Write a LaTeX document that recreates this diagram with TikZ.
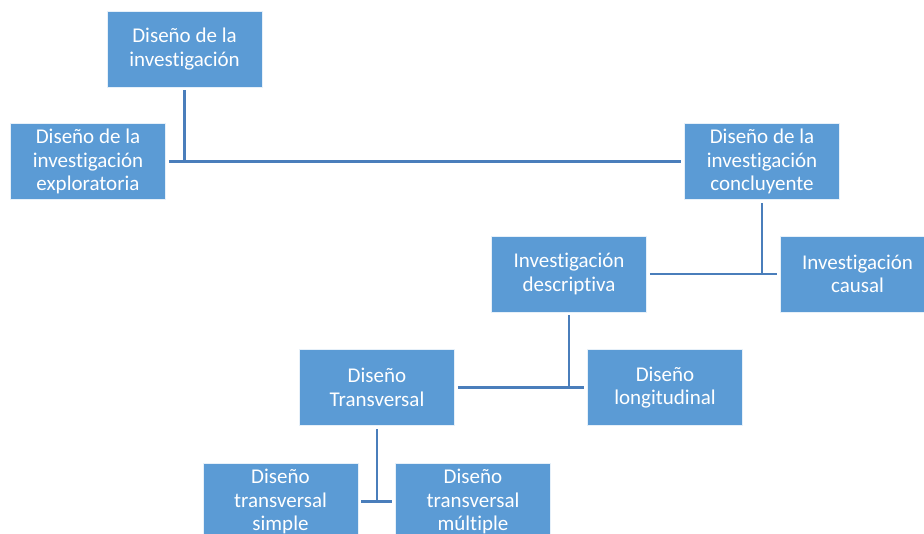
\documentclass[tikz,border=0pt]{standalone}
\usepackage{fontspec}
\setmainfont{Carlito}[Ligatures=NoCommon]
\definecolor{boxblue}{HTML}{5B9BD5}
\definecolor{linkblue}{HTML}{4A7EBB}
\begin{document}
\begin{tikzpicture}[x=1pt,y=-1pt,
  box/.style={rectangle, fill=boxblue, draw=white!85!boxblue, line width=0.8pt,
    minimum width=155pt, minimum height=76pt, inner sep=2pt, align=center,
    text=white, font=\fontsize{21}{23.5}\selectfont},
  link/.style={draw=linkblue, line width=2.6pt}]
\useasboundingbox (0,0) rectangle (924,533);
\clip (0,0) rectangle (924,533);
\node[box] (root)  at (184.5,49)  {Diseño de la\\investigación};
\node[box] (expl)  at (88,161.5)  {Diseño de la\\investigación\\exploratoria};
\node[box] (concl) at (762,161.5) {Diseño de la\\investigación\\concluyente};
\node[box] (desc)  at (569,274)   {Investigación\\descriptiva};
\node[box] (caus) at (857.5,274) {Investigación\\causal};
\node[box] (trans) at (377,387.5) {Diseño\\Transversal};
\node[box] (longi) at (665,387.5) {Diseño\\longitudinal};
\node[box] (simp)  at (280.5,501.5) {Diseño\\transversal\\simple};
\node[box] (mult)  at (473,501.5) {Diseño\\transversal\\múltiple};
% connectors
\draw[link] ([yshift=-3pt]root.south) -- (root.south |- expl.east);
\draw[link] ([xshift=3pt]expl.east) -- ([xshift=-3pt]concl.west);
\draw[link] ([yshift=-3pt]concl.south) -- (concl.south |- caus.west);
\draw[link] ([xshift=3pt]desc.east) -- ([xshift=-3pt]caus.west);
\draw[link] ([yshift=-3pt]desc.south) -- (desc.south |- longi.west);
\draw[link] ([xshift=3pt]trans.east) -- ([xshift=-3pt]longi.west);
\draw[link] ([yshift=-3pt]trans.south) -- (trans.south |- mult.west);
\draw[link] ([xshift=3pt]simp.east) -- ([xshift=-3pt]mult.west);
\end{tikzpicture}
\end{document}
